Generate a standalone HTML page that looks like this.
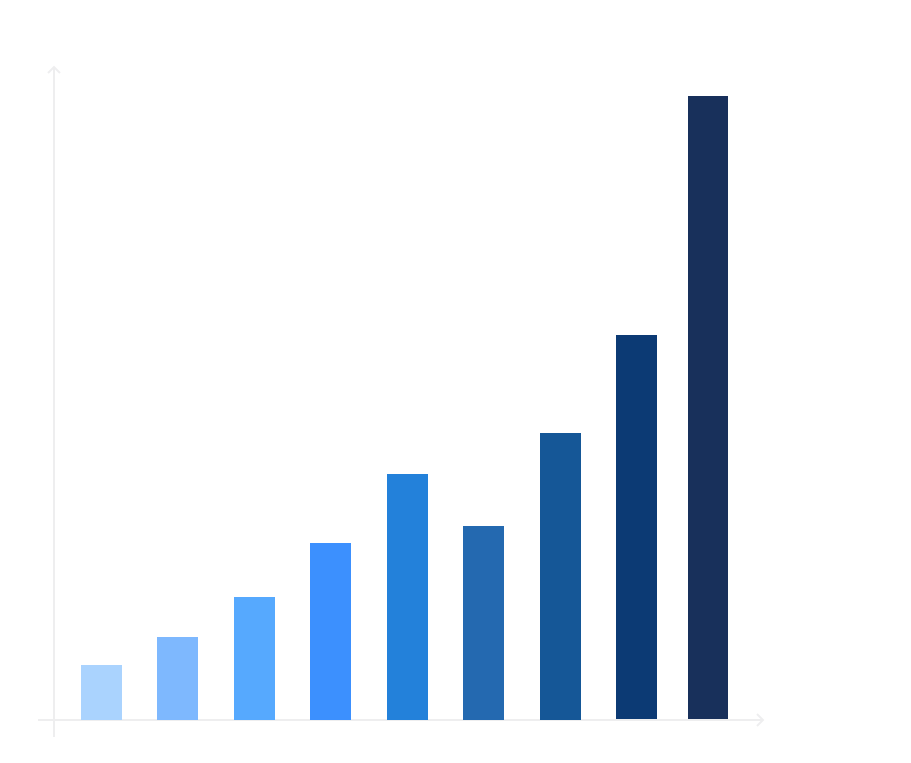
<!DOCTYPE html>
<html><head><meta charset="utf-8"><style>html,body{margin:0;padding:0;background:#fff}</style></head>
<body>
<svg width="911" height="758" viewBox="0 0 911 758" xmlns="http://www.w3.org/2000/svg">
<g stroke="#eeeeef" stroke-width="2" fill="none">
<line x1="54" y1="67" x2="54" y2="737"/>
<line x1="38" y1="720" x2="763" y2="720"/>
<polyline points="48,73 54,67 60,73"/>
<polyline points="757,714 763,720 757,726"/>
</g>
<rect x="81" y="665" width="41" height="55" fill="#aad3fe"/>
<rect x="157" y="637" width="41" height="83" fill="#7eb8fe"/>
<rect x="234" y="597" width="41" height="123" fill="#56a9fe"/>
<rect x="310" y="543" width="41" height="177" fill="#3c90fe"/>
<rect x="387" y="474" width="41" height="246" fill="#2381da"/>
<rect x="463" y="526" width="41" height="194" fill="#2469b0"/>
<rect x="540" y="433" width="41" height="287" fill="#155797"/>
<rect x="616" y="335" width="41" height="384" fill="#0c3a74"/>
<rect x="688" y="96" width="40" height="623" fill="#18305b"/>
</svg>
</body></html>
